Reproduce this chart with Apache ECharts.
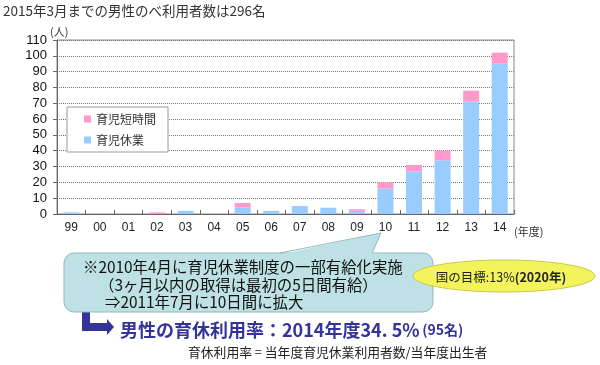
<!DOCTYPE html>
<html>
<head>
<meta charset="utf-8">
<script src="https://cdn.jsdelivr.net/npm/echarts@6/dist/echarts.min.js"></script>
<style>
html,body{margin:0;padding:0;background:#fff;}
#chart{width:600px;height:365px;}
</style>
</head>
<body>
<div id="chart"></div>
<script>
const years = ['99','00','01','02','03','04','05','06','07','08','09','10','11','12','13','14'];
const leaveValues = [1,0,0,0,2,0,4,2,5,4,2,16,27,34,71,95];   // 育児休業
const shortValues = [0,0,0,1,0,0,3,0,0,0,1,4,4,6,7,7];        // 育児短時間
const yMax = 110;
const yInterval = 10;
const seriesNames = ['育児休業','育児短時間'];

const JP = '"Noto Sans CJK JP", "Noto Sans", sans-serif';
const chart = echarts.init(document.getElementById('chart'), null, {renderer:'canvas'});

const bubbleFill = '#bde1e4';
const bubbleStroke = '#93b9bf';

chart.setOption({
  animation:false,
  backgroundColor:'#fff',
  textStyle:{fontFamily:JP},
  grid:{left:57, right:86, top:40, bottom:151, show:true, borderColor:'#888', borderWidth:1, containLabel:false},
  legend:{
    data:[seriesNames[1], seriesNames[0]],
    orient:'vertical', left:67, top:107,
    backgroundColor:'#fff', borderColor:'#999', borderWidth:1, borderRadius:0,
    padding:[6,12,6,17], itemGap:9, itemWidth:7, itemHeight:7,
    icon:'rect',
    textStyle:{fontSize:12, color:'#333', fontFamily:JP}
  },
  xAxis:{
    type:'category', data:years, boundaryGap:true,
    axisLine:{lineStyle:{color:'#666'}},
    axisTick:{show:true, inside:true, length:4, lineStyle:{color:'#666'}},
    axisLabel:{fontSize:12, color:'#222', margin:8, fontFamily:'"Liberation Sans", Arial, sans-serif'}
  },
  yAxis:{
    type:'value', min:0, max:yMax, interval:yInterval,
    axisLine:{show:true, lineStyle:{color:'#666'}},
    axisTick:{show:true, length:4, lineStyle:{color:'#666'}},
    axisLabel:{fontSize:13, color:'#111', margin:10, fontFamily:'"Liberation Sans", Arial, sans-serif'},
    splitLine:{show:true, lineStyle:{type:'dotted', color:'#777', width:1}}
  },
  series:[
    {name:seriesNames[0], type:'bar', stack:'total', data:leaveValues, barWidth:'56%', itemStyle:{color:'#99ccff'}},
    {name:seriesNames[1], type:'bar', stack:'total', data:shortValues, barWidth:'56%', itemStyle:{color:'#ff99cc'}}
  ],
  graphic:{elements:[
    {type:'text', left:3, top:4, style:{text:'2015年3月までの男性のべ利用者数は296名', fontSize:13.5, fill:'#333', fontFamily:JP}},
    {type:'text', x:50, y:32, style:{text:'(人)', fontSize:11, fill:'#333', fontFamily:JP, verticalAlign:'middle'}},
    {type:'text', x:514, y:232, style:{text:'(年度)', fontSize:11, fill:'#333', fontFamily:JP, verticalAlign:'middle'}},
    {type:'polygon', z:10, shape:{points:[[82,306],[90,306],[90,323],[107,323],[107,319],[114,327],[107,335],[107,331],[82,331]]}, style:{fill:'#33339a'}},
    {type:'rect', z:11, shape:{x:64, y:253, width:369, height:59, r:10}, style:{fill:bubbleFill, stroke:bubbleStroke, lineWidth:1}},
    {type:'polygon', z:12, shape:{points:[[280,254.5],[381,233],[372,254.5]]}, style:{fill:bubbleFill}},
    {type:'polyline', z:12, shape:{points:[[280,253],[381,233],[372,253]]}, style:{stroke:bubbleStroke, lineWidth:1, fill:null}},
    {type:'text', x:83, y:267, z:13, style:{text:'※2010年4月に育児休業制度の一部有給化実施', fontSize:15.4, fill:'#111', fontFamily:JP, verticalAlign:'middle'}},
    {type:'text', x:99, y:285, z:13, style:{text:'（3ヶ月以内の取得は最初の5日間有給）', fontSize:15.4, fill:'#111', fontFamily:JP, verticalAlign:'middle'}},
    {type:'text', x:105, y:302, z:13, style:{text:'⇒2011年7月に10日間に拡大', fontSize:15.4, fill:'#111', fontFamily:JP, verticalAlign:'middle'}},
    {type:'ellipse', z:14, shape:{cx:504, cy:276, rx:91, ry:16}, style:{fill:'#f3f35c', stroke:'#c9c94a', lineWidth:1}},
    {type:'text', x:501, y:277, z:15, style:{text:'{a|国の目標:13%}{b|(2020年)}', align:'center', verticalAlign:'middle', fontFamily:JP,
      rich:{a:{fontSize:12.5, fill:'#222', fontFamily:JP}, b:{fontSize:12.5, fontWeight:'bold', fill:'#222', fontFamily:JP}}}},
    {type:'text', x:120, y:330, z:13, style:{text:'{a|男性の育休利用率：2014年度34. 5%} {b|(95名)}', verticalAlign:'middle', fontFamily:JP,
      rich:{a:{fontSize:18, fontWeight:'bold', fill:'#33339a', fontFamily:JP}, b:{fontSize:14, fontWeight:'bold', fill:'#33339a', fontFamily:JP}}}},
    {type:'text', x:188, y:352, z:13, style:{text:'育休利用率 = 当年度育児休業利用者数/当年度出生者', fontSize:12.8, fill:'#222', fontFamily:JP, verticalAlign:'middle'}}
  ]}
});
</script>
</body>
</html>
